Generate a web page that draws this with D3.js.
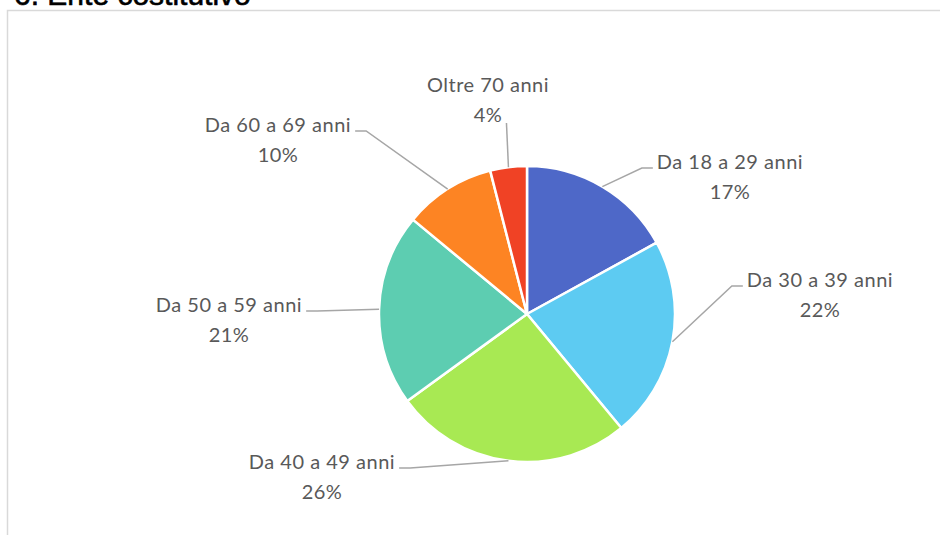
<!DOCTYPE html>
<html>
<head>
<meta charset="utf-8">
<script src="https://cdn.jsdelivr.net/npm/d3@7"></script>
<style>
  body { margin: 0; background: #fff; }
  svg { display: block; }
</style>
</head>
<body>
<script>
// data
const categories = ["Da 18 a 29 anni", "Da 30 a 39 anni", "Da 40 a 49 anni", "Da 50 a 59 anni", "Da 60 a 69 anni", "Oltre 70 anni"];
const values = [17, 22, 26, 21, 10, 4];
const colors = ["#4E68C8", "#5DCBF2", "#A8E953", "#5DCDB1", "#FD8423", "#F04225"];

const width = 940;
const height = 535;
const cx = 527, cy = 314, radius = 148;

// label block centres (first line), relative to the pie centre
const labelOffsets = [[203, -152], [293, -34], [-205, 148], [-298, -9], [-249, -189], [-39, -229]];
const lineGap = 30;

var svg = d3.select("body").append("svg")
    .attr("width", width)
    .attr("height", height);

// heading, cut off by the top edge as in the screenshot
svg.append("text")
    .attr("x", 14)
    .attr("y", 5)
    .style("font-family", "Liberation Sans, Arial, sans-serif")
    .style("font-size", "30px")
    .style("fill", "#000")
    .style("stroke", "#000")
    .style("stroke-width", 0.6)
    .text("6. Ente costitutivo");

svg.append("path")
    .attr("d", "M7.5,535 L7.5,10.5 L940,10.5")
    .attr("fill", "none")
    .attr("stroke", "#D9D9D9")
    .attr("stroke-width", 1.5);

const pie = d3.pie().sort(null).value(d => d)(values);
const arc = d3.arc().innerRadius(0).outerRadius(radius);

var g = svg.append("g").attr("transform", "translate(" + cx + "," + cy + ")");

g.selectAll("path.slice")
    .data(pie)
    .enter()
    .append("path")
    .attr("class", "slice")
    .attr("d", arc)
    .attr("fill", (d, i) => colors[i])
    .attr("stroke", "#fff")
    .attr("stroke-width", 2.5)
    .attr("stroke-linejoin", "round");

const total = d3.sum(values);
const fmt = d3.format(".0%");
const font = "Lato, 'Open Sans', sans-serif";

pie.forEach((d, i) => {
    const mid = (d.startAngle + d.endAngle) / 2;
    const sx = Math.sin(mid) * radius, sy = -Math.cos(mid) * radius;
    const [lx, ly] = labelOffsets[i];

    var t = g.append("text")
        .attr("text-anchor", "middle")
        .style("font-family", font)
        .style("font-size", "20px")
        .style("letter-spacing", "0.5px")
        .style("fill", "#595959");
    t.append("tspan").attr("x", lx).attr("y", ly).attr("dy", "0.35em").text(categories[i]);
    t.append("tspan").attr("x", lx).attr("y", ly + lineGap).attr("dy", "0.35em").text(fmt(d.value / total));

    const bb = t.node().getBBox();
    let pts;
    if (bb.x > sx) {
        const ex = bb.x - 4, ey = ly + 6;
        pts = [[sx, sy], [ex - 11, ey], [ex, ey]];
    } else if (bb.x + bb.width < sx) {
        const ex = bb.x + bb.width + 4, ey = ly + 6;
        pts = [[sx, sy], [ex + 11, ey], [ex, ey]];
    } else {
        pts = [[sx, sy], [sx - 2, ly + lineGap + 8]];
    }
    g.insert("path", "text")
        .attr("d", d3.line()(pts))
        .attr("fill", "none")
        .attr("stroke", "#A6A6A6")
        .attr("stroke-width", 1.5);
});
</script>
</body>
</html>
